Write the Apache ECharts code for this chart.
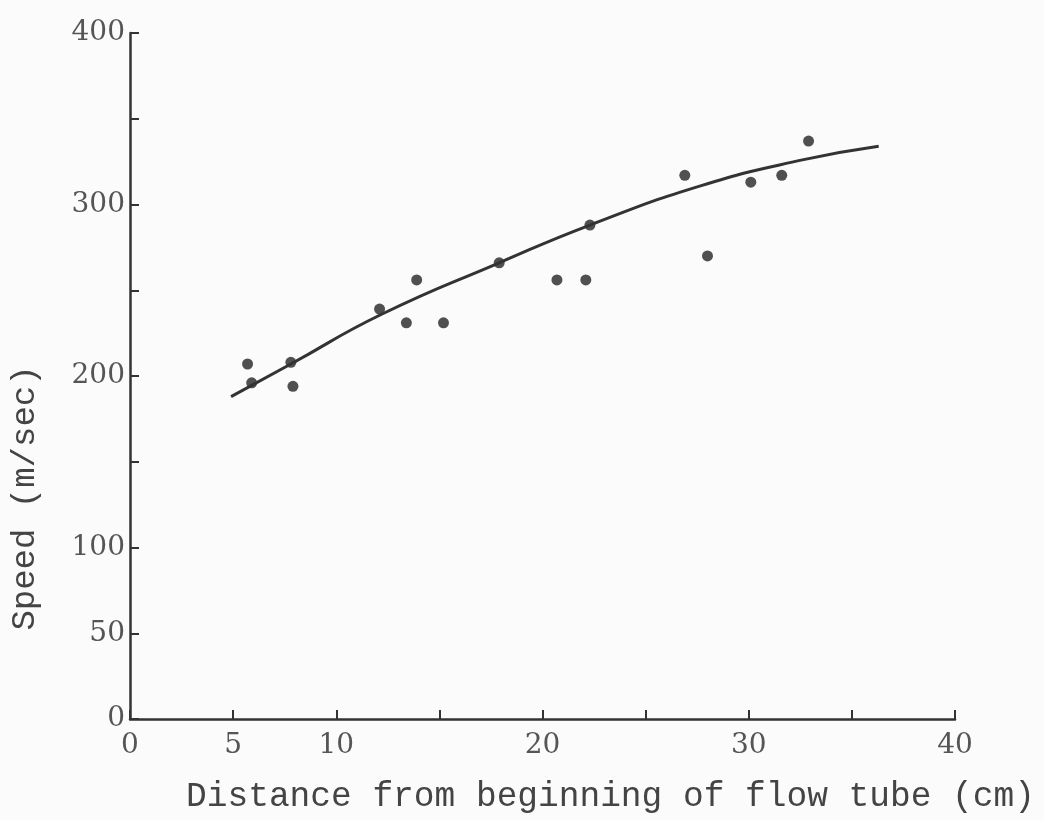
<!DOCTYPE html>
<html lang="en">
<head>
    <meta charset="utf-8">
    <title>Speed vs distance</title>
    <style>
        html, body { margin: 0; padding: 0; background: #fbfbfb; }
        #chart { width: 1044px; height: 820px; }
    </style>
</head>
<body>
<div id="chart"></div>
<script src="https://cdn.jsdelivr.net/npm/echarts@6/dist/echarts.min.js"></script>
<script>
    // measured points (distance cm, speed m/sec)
    let pointX = [5.7, 5.9, 7.8, 7.9, 12.1, 13.4, 13.9, 15.2, 17.9, 20.7, 22.1, 22.3, 26.9, 28.0, 30.1, 31.6, 32.9];
    let pointY = [207, 196, 208, 194, 239, 231, 256, 231, 266, 256, 256, 288, 317, 270, 313, 317, 337];

    // hand drawn fit curve
    let curveX = [4.9, 7.8, 12.2, 17.9, 22.3, 27.7, 32.6, 36.3];
    let curveY = [188, 207, 236, 266, 288, 311, 326, 334];

    // tick labels that are printed
    let xTickLabels = [0, 5, 10, 20, 30, 40];
    let yTickLabels = [0, 50, 100, 200, 300, 400];

    let chart = echarts.init(document.getElementById('chart'));

    let points = pointX.map(function (x, i) { return [x, pointY[i]]; });
    let curve = curveX.map(function (x, i) { return [x, curveY[i]]; });

    let labelFont = {
        fontFamily: 'DejaVu Serif',
        fontSize: 28,
        color: '#555'
    };

    let option = {
        backgroundColor: '#fbfbfb',
        animation: false,
        grid: {
            left: 128,
            right: 89,
            top: 33,
            bottom: 101
        },
        xAxis: {
            type: 'value',
            min: 0,
            max: 40,
            interval: 5,
            splitLine: { show: false },
            axisLine: { lineStyle: { color: '#333', width: 2.5 } },
            axisTick: { inside: true, length: 9, lineStyle: { color: '#333', width: 2 } },
            axisLabel: Object.assign({
                margin: 13,
                formatter: function (v) {
                    return xTickLabels.indexOf(v) >= 0 ? String(v) : '';
                }
            }, labelFont),
            name: 'Distance from beginning of flow tube (cm)',
            nameLocation: 'middle',
            nameGap: 60,
            nameTextStyle: {
                fontFamily: 'Liberation Mono',
                fontSize: 34.5,
                color: '#444',
                padding: [0, 0, 0, 136]
            }
        },
        yAxis: {
            type: 'value',
            min: 0,
            max: 400,
            interval: 50,
            splitLine: { show: false },
            axisLine: { lineStyle: { color: '#333', width: 2.5 } },
            axisTick: { inside: true, length: 9, lineStyle: { color: '#333', width: 2 } },
            axisLabel: Object.assign({
                margin: 5,
                formatter: function (v) {
                    return yTickLabels.indexOf(v) >= 0 ? String(v) : '';
                }
            }, labelFont),
            name: 'Speed (m/sec)',
            nameLocation: 'middle',
            nameGap: 88,
            nameTextStyle: {
                fontFamily: 'Liberation Mono',
                fontSize: 34,
                color: '#444',
                padding: [0, 244, 0, 0]
            }
        },
        series: [
            {
                type: 'line',
                data: curve,
                smooth: 0.5,
                showSymbol: false,
                lineStyle: { color: '#333', width: 3 }
            },
            {
                type: 'scatter',
                data: points,
                symbolSize: 11,
                itemStyle: { color: '#262626' }
            }
        ]
    };

    chart.setOption(option);
</script>
</body>
</html>
